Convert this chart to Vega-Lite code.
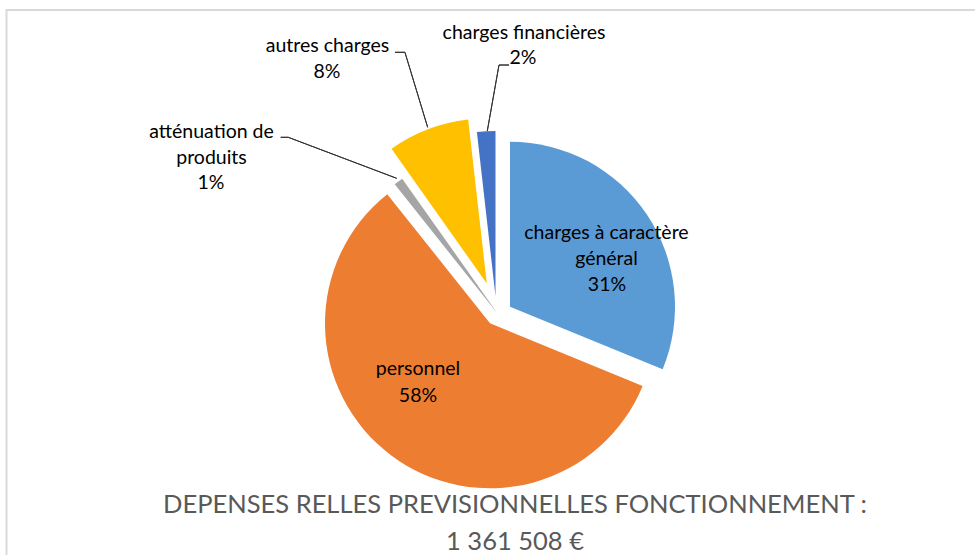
{
  "$schema": "https://vega.github.io/schema/vega-lite/v6.json",
  "autosize": "none",
  "width": 984,
  "height": 606.8,
  "padding": {"left": 6.5, "top": 10, "right": -15.5, "bottom": -61.8},
  "background": "white",
  "view": {"stroke": "#d9d9d9", "strokeWidth": 2},
  "title": {
    "text": ["DEPENSES RELLES PREVISIONNELLES FONCTIONNEMENT :", "1 361 508 €"],
    "orient": "bottom",
    "anchor": "middle",
    "offset": 0,
    "dy": -124,
    "dx": 16.5,
    "baseline": "top",
    "font": "Lato",
    "fontSize": 25.5,
    "fontWeight": "normal",
    "color": "#595959",
    "lineHeight": 37
  },
  "data": {
    "values": [
      {"cat": "charges à caractère général", "label": "charges à caractère\ngénéral", "share": 0.312, "order": 1},
      {"cat": "personnel", "label": "personnel", "share": 0.581, "order": 2},
      {"cat": "atténuation de produits", "label": "atténuation de\nproduits", "share": 0.009, "order": 3},
      {"cat": "autres charges", "label": "autres charges", "share": 0.080, "order": 4},
      {"cat": "charges financières", "label": "charges financières", "share": 0.018, "order": 5}
    ]
  },
  "transform": [
    {"stack": "share", "groupby": [], "sort": [{"field": "order", "order": "ascending"}], "as": ["s0", "s1"]}
  ],
  "layer": [
    {
      "transform": [{"filter": "datum.cat === 'charges à caractère général'"}],
      "mark": {"type": "arc", "radius": 165, "xOffset": 11.5, "yOffset": -6.7},
      "encoding": {
        "theta": {"field": "s0", "type": "quantitative", "scale": {"domain": [0, 1]}},
        "theta2": {"field": "s1"},
        "color": {"field": "cat", "type": "nominal", "legend": null,
          "scale": {"domain": ["charges à caractère général", "personnel", "atténuation de produits", "autres charges", "charges financières"],
                    "range": ["#5B9BD5", "#ED7D31", "#A5A5A5", "#FFC000", "#4472C4"]}}
      }
    },
    {
      "transform": [{"filter": "datum.cat === 'personnel'"}],
      "mark": {"type": "arc", "radius": 165, "xOffset": -8.5, "yOffset": 9.9},
      "encoding": {
        "theta": {"field": "s0", "type": "quantitative", "scale": {"domain": [0, 1]}},
        "theta2": {"field": "s1"},
        "color": {"field": "cat", "type": "nominal", "legend": null}
      }
    },
    {
      "transform": [{"filter": "datum.cat === 'atténuation de produits'"}],
      "mark": {"type": "arc", "radius": 165, "xOffset": -1, "yOffset": 0},
      "encoding": {
        "theta": {"field": "s0", "type": "quantitative", "scale": {"domain": [0, 1]}},
        "theta2": {"field": "s1"},
        "color": {"field": "cat", "type": "nominal", "legend": null}
      }
    },
    {
      "transform": [{"filter": "datum.cat === 'autres charges'"}],
      "mark": {"type": "arc", "radius": 165, "xOffset": -11.7, "yOffset": -29.9},
      "encoding": {
        "theta": {"field": "s0", "type": "quantitative", "scale": {"domain": [0, 1]}},
        "theta2": {"field": "s1"},
        "color": {"field": "cat", "type": "nominal", "legend": null}
      }
    },
    {
      "transform": [{"filter": "datum.cat === 'charges financières'"}],
      "mark": {"type": "arc", "radius": 165, "xOffset": -3, "yOffset": -17.5},
      "encoding": {
        "theta": {"field": "s0", "type": "quantitative", "scale": {"domain": [0, 1]}},
        "theta2": {"field": "s1"},
        "color": {"field": "cat", "type": "nominal", "legend": null}
      }
    },
    {
      "transform": [{"filter": "datum.cat === 'autres charges'"}],
      "mark": {"type": "arc", "filled": false, "stroke": "#333333", "strokeWidth": 1, "radius": 277, "radius2": 198.6, "thetaOffset": 0.3218, "theta2Offset": 0.3218, "xOffset": -13.3, "yOffset": 4},
      "encoding": {"theta": {"field": "s0", "type": "quantitative", "scale": {"domain": [0, 1]}}, "theta2": {"field": "s0"}}
    },
    {
      "transform": [{"filter": "datum.cat === 'autres charges'"}],
      "mark": {"type": "arc", "filled": false, "stroke": "#333333", "strokeWidth": 1, "radius": 103.5, "radius2": 93.5, "thetaOffset": -0.9551, "theta2Offset": -0.9551, "xOffset": 0, "yOffset": -261.1},
      "encoding": {"theta": {"field": "s0", "type": "quantitative", "scale": {"domain": [0, 1]}}, "theta2": {"field": "s0"}}
    },
    {
      "transform": [{"filter": "datum.cat === 'atténuation de produits'"}],
      "mark": {"type": "arc", "filled": false, "stroke": "#333333", "strokeWidth": 1, "radius": 258.9, "radius2": 143, "thetaOffset": -0.5369, "theta2Offset": -0.5369, "xOffset": 31.9, "yOffset": -84.5},
      "encoding": {"theta": {"field": "s0", "type": "quantitative", "scale": {"domain": [0, 1]}}, "theta2": {"field": "s0"}}
    },
    {
      "transform": [{"filter": "datum.cat === 'atténuation de produits'"}],
      "mark": {"type": "arc", "filled": false, "stroke": "#333333", "strokeWidth": 1, "radius": 217.8, "radius2": 210.2, "thetaOffset": -0.8985, "theta2Offset": -0.8985, "xOffset": 0, "yOffset": -176.1},
      "encoding": {"theta": {"field": "s0", "type": "quantitative", "scale": {"domain": [0, 1]}}, "theta2": {"field": "s0"}}
    },
    {
      "transform": [{"filter": "datum.cat === 'charges financières'"}],
      "mark": {"type": "arc", "filled": false, "stroke": "#333333", "strokeWidth": 1, "radius": 244.6, "radius2": 177.6, "thetaOffset": 0.2885, "theta2Offset": 0.2885, "xOffset": -42.2, "yOffset": -7.5},
      "encoding": {"theta": {"field": "s0", "type": "quantitative", "scale": {"domain": [0, 1]}}, "theta2": {"field": "s0"}}
    },
    {
      "transform": [{"filter": "datum.cat === 'charges financières'"}],
      "mark": {"type": "arc", "filled": false, "stroke": "#333333", "strokeWidth": 1, "radius": 109, "radius2": 99, "thetaOffset": 1.6839, "theta2Offset": 1.6839, "xOffset": -98.5, "yOffset": -248.4},
      "encoding": {"theta": {"field": "s0", "type": "quantitative", "scale": {"domain": [0, 1]}}, "theta2": {"field": "s0"}}
    },
    {
      "mark": {"type": "text", "radius": 127, "dx": 2.5, "dy": -9.2, "font": "Lato", "fontSize": 19.5, "lineHeight": 26, "lineBreak": "\n", "color": "#000000", "align": "center", "baseline": "middle"},
      "encoding": {
        "theta": {"field": "share", "type": "quantitative", "stack": true, "scale": {"domain": [0, 1]}},
        "order": {"field": "order"}, "detail": {"field": "cat"},
        "text": {"condition": {"test": "datum.cat === 'charges à caractère général'", "field": "label", "type": "nominal"}, "value": ""}
      }
    },
    {
      "mark": {"type": "text", "radius": 127, "dx": 3, "dy": 42.3, "font": "Lato", "fontSize": 19.5, "color": "#000000", "align": "center", "baseline": "middle"},
      "encoding": {
        "theta": {"field": "share", "type": "quantitative", "stack": true, "scale": {"domain": [0, 1]}},
        "order": {"field": "order"}, "detail": {"field": "cat"},
        "text": {"condition": {"test": "datum.cat === 'charges à caractère général'", "field": "share", "type": "quantitative", "format": ".0%"}, "value": ""}
      }
    },
    {
      "mark": {"type": "text", "radius": 92.8, "dx": -24.8, "dy": -18.6, "font": "Lato", "fontSize": 19.5, "lineHeight": 26, "lineBreak": "\n", "color": "#000000", "align": "center", "baseline": "middle"},
      "encoding": {
        "theta": {"field": "share", "type": "quantitative", "stack": true, "scale": {"domain": [0, 1]}},
        "order": {"field": "order"}, "detail": {"field": "cat"},
        "text": {"condition": {"test": "datum.cat === 'personnel'", "field": "label", "type": "nominal"}, "value": ""}
      }
    },
    {
      "mark": {"type": "text", "radius": 92.8, "dx": -24.8, "dy": 8.4, "font": "Lato", "fontSize": 19.5, "color": "#000000", "align": "center", "baseline": "middle"},
      "encoding": {
        "theta": {"field": "share", "type": "quantitative", "stack": true, "scale": {"domain": [0, 1]}},
        "order": {"field": "order"}, "detail": {"field": "cat"},
        "text": {"condition": {"test": "datum.cat === 'personnel'", "field": "share", "type": "quantitative", "format": ".0%"}, "value": ""}
      }
    },
    {
      "mark": {"type": "text", "radius": 200, "dx": -166.9, "dy": -21.5, "font": "Lato", "fontSize": 19.5, "lineHeight": 26, "lineBreak": "\n", "color": "#000000", "align": "center", "baseline": "middle"},
      "encoding": {
        "theta": {"field": "share", "type": "quantitative", "stack": true, "scale": {"domain": [0, 1]}},
        "order": {"field": "order"}, "detail": {"field": "cat"},
        "text": {"condition": {"test": "datum.cat === 'atténuation de produits'", "field": "label", "type": "nominal"}, "value": ""}
      }
    },
    {
      "mark": {"type": "text", "radius": 200, "dx": -167.4, "dy": 29.5, "font": "Lato", "fontSize": 19.5, "color": "#000000", "align": "center", "baseline": "middle"},
      "encoding": {
        "theta": {"field": "share", "type": "quantitative", "stack": true, "scale": {"domain": [0, 1]}},
        "order": {"field": "order"}, "detail": {"field": "cat"},
        "text": {"condition": {"test": "datum.cat === 'atténuation de produits'", "field": "share", "type": "quantitative", "format": ".0%"}, "value": ""}
      }
    },
    {
      "mark": {"type": "text", "radius": 200, "dx": -99.7, "dy": -80.6, "font": "Lato", "fontSize": 19.5, "lineHeight": 26, "lineBreak": "\n", "color": "#000000", "align": "center", "baseline": "middle"},
      "encoding": {
        "theta": {"field": "share", "type": "quantitative", "stack": true, "scale": {"domain": [0, 1]}},
        "order": {"field": "order"}, "detail": {"field": "cat"},
        "text": {"condition": {"test": "datum.cat === 'autres charges'", "field": "label", "type": "nominal"}, "value": ""}
      }
    },
    {
      "mark": {"type": "text", "radius": 200, "dx": -100.2, "dy": -54.6, "font": "Lato", "fontSize": 19.5, "color": "#000000", "align": "center", "baseline": "middle"},
      "encoding": {
        "theta": {"field": "share", "type": "quantitative", "stack": true, "scale": {"domain": [0, 1]}},
        "order": {"field": "order"}, "detail": {"field": "cat"},
        "text": {"condition": {"test": "datum.cat === 'autres charges'", "field": "share", "type": "quantitative", "format": ".0%"}, "value": ""}
      }
    },
    {
      "mark": {"type": "text", "radius": 200, "dx": 36.8, "dy": -80.7, "font": "Lato", "fontSize": 19.5, "lineHeight": 26, "lineBreak": "\n", "color": "#000000", "align": "center", "baseline": "middle"},
      "encoding": {
        "theta": {"field": "share", "type": "quantitative", "stack": true, "scale": {"domain": [0, 1]}},
        "order": {"field": "order"}, "detail": {"field": "cat"},
        "text": {"condition": {"test": "datum.cat === 'charges financières'", "field": "label", "type": "nominal"}, "value": ""}
      }
    },
    {
      "mark": {"type": "text", "radius": 200, "dx": 35.8, "dy": -55.7, "font": "Lato", "fontSize": 19.5, "color": "#000000", "align": "center", "baseline": "middle"},
      "encoding": {
        "theta": {"field": "share", "type": "quantitative", "stack": true, "scale": {"domain": [0, 1]}},
        "order": {"field": "order"}, "detail": {"field": "cat"},
        "text": {"condition": {"test": "datum.cat === 'charges financières'", "field": "share", "type": "quantitative", "format": ".0%"}, "value": ""}
      }
    }
  ]
}
